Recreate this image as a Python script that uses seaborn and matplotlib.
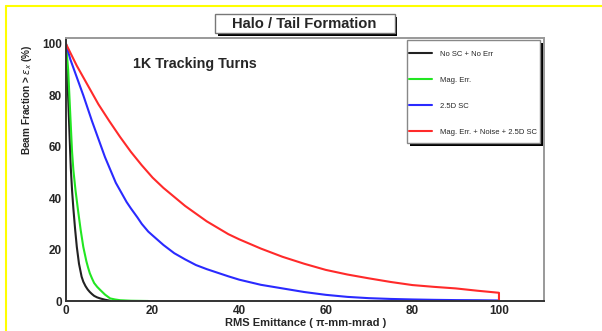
import numpy as np
import pandas as pd
import matplotlib
matplotlib.use("Agg")
import matplotlib.pyplot as plt
import seaborn as sns
from matplotlib.patches import Rectangle
from matplotlib.lines import Line2D
from matplotlib.ticker import MultipleLocator

# ---- data ----
series_labels = ["No SC + No Err", "Mag. Err.", "2.5D SC", "Mag. Err. + Noise + 2.5D SC"]
series_colors = ["#222222", "#22e622", "#2a2aff", "#ff2a2a"]

emit_nosc = [0, 0.3, 0.7, 1.1, 1.4, 1.7, 2.1, 2.5, 3.0, 3.6, 4.0, 4.5, 5.0, 5.5, 6.0, 6.5, 7.2,
             7.9, 9.0, 10.2]
frac_nosc = [100, 88, 70, 52, 43, 36, 28, 21, 14.5, 9.5, 7.5, 5.8, 4.5, 3.5, 2.7, 2.0, 1.4,
             1.0, 0.5, 0.1]

emit_mag = [0, 0.5, 1.0, 1.4, 1.7, 2.2, 2.8, 3.4, 4.0, 4.7, 5.1, 5.5, 6.0, 6.5, 7.2, 7.9, 9.0,
            10.2, 11.3, 12.5, 15, 19]
frac_mag = [100, 90, 72, 58, 51, 43, 35, 27.5, 21, 15.5, 13, 10.8, 8.8, 7.0, 5.5, 4.3, 2.5,
            1.0, 0.6, 0.3, 0.1, 0.0]

emit_sc = [0, 1, 2.5, 4, 5, 6, 7.5, 9, 10, 11.5, 12.5, 14, 15, 16.5, 17.5, 19, 20, 22.5, 25,
           27.5, 30, 32.5, 35, 37.5, 40, 45, 50, 55, 60, 65, 70, 75, 80, 85, 90, 95, 100]
frac_sc = [100, 94, 87, 80, 75, 70, 63, 56, 52, 46, 43, 38.5, 36, 32.5, 30, 27, 25.5, 21.8,
           18.6, 16.2, 14, 12.4, 11, 9.6, 8.3, 6.3, 4.9, 3.5, 2.4, 1.6, 1.1, 0.8, 0.6, 0.45,
           0.35, 0.3, 0.2]

emit_all = [0, 2.5, 5, 7.5, 10, 12.5, 15, 17.5, 20, 22.5, 25, 27.5, 30, 32.5, 35, 37.5, 40,
            45, 50, 55, 60, 65, 70, 75, 80, 85, 90, 95, 100, 100]
frac_all = [100, 91.5, 84, 76.5, 70, 63.8, 58, 52.8, 48, 44, 40.5, 37, 34, 31, 28.5, 26, 24,
            20.4, 17.2, 14.5, 12.1, 10.3, 8.8, 7.4, 6.2, 5.5, 4.9, 4.0, 3.2, 0.0]

x_ticks = [0, 20, 40, 60, 80, 100]
y_ticks = [0, 20, 40, 60, 80, 100]

title_text = "Halo / Tail Formation"
subtitle_text = "1K Tracking Turns"
xlabel_text = "RMS Emittance ( \u03c0-mm-mrad )"
ylabel_text = r"Beam Fraction > $\epsilon_x$ (%)"

# ---- build table ----
frames = []
for lab, ex, fr in zip(series_labels,
                       [emit_nosc, emit_mag, emit_sc, emit_all],
                       [frac_nosc, frac_mag, frac_sc, frac_all]):
    frames.append(pd.DataFrame({"emit": ex, "frac": fr, "series": lab}))
df = pd.concat(frames, ignore_index=True)
palette = dict(zip(series_labels, series_colors))

sns.set_style("white")
plt.rcParams["font.family"] = ["Liberation Sans", "DejaVu Sans"]

W, H = 602, 331
fig = plt.figure(figsize=(W / 100, H / 100), dpi=100)
fig.patch.set_facecolor("white")


def fx(px):
    return px / W


def fy(py):
    return 1 - py / H


ax = fig.add_axes([fx(66), fy(301), (544 - 66) / W, (301 - 38.3) / H])

sns.lineplot(data=df, x="emit", y="frac", hue="series", palette=palette,
             estimator=None, sort=False, linewidth=1.5, ax=ax, legend=False)

ax.set_xlim(0, 110.4)
ax.set_ylim(0, 102.2)
ax.set_xticks(x_ticks)
ax.set_yticks(y_ticks)
ax.set_xticklabels([str(v) for v in x_ticks])
ax.set_yticklabels([str(v) for v in y_ticks])
ax.xaxis.set_minor_locator(MultipleLocator(5))
ax.yaxis.set_minor_locator(MultipleLocator(5))
ax.tick_params(axis="y", which="major", direction="in", length=10, width=1, color="#444444",
               pad=3, labelsize=8.5)
ax.tick_params(axis="y", which="minor", direction="in", length=5, width=1, color="#444444")
ax.tick_params(axis="x", which="major", direction="in", length=6, width=1, color="#444444",
               pad=3, labelsize=8.5)
ax.tick_params(axis="x", which="minor", direction="in", length=4, width=1, color="#444444")
for lab in ax.get_xticklabels() + ax.get_yticklabels():
    lab.set_fontweight("bold")
ax.set_xlabel("")
ax.set_ylabel("")
for side in ["left", "bottom"]:
    ax.spines[side].set_color("#333333")
    ax.spines[side].set_linewidth(1.4)
for side in ["top", "right"]:
    ax.spines[side].set_color("#999999")
    ax.spines[side].set_linewidth(1.4)

# axis labels
fig.text(fx(306), fy(323), xlabel_text, ha="center", va="center", fontsize=8, fontweight="bold")
fig.text(fx(27), fy(100), ylabel_text, ha="center", va="center", rotation=90,
         fontsize=7.2, fontweight="bold")

# subtitle in plot
fig.text(fx(195), fy(64), subtitle_text, ha="center", va="center", fontsize=10.3,
         fontweight="bold")


def add_rect(x0, y0, x1, y1, fc, ec="none", lw=0, z=2):
    r = Rectangle((fx(x0), fy(y1)), (x1 - x0) / W, (y1 - y0) / H, transform=fig.transFigure,
                  facecolor=fc, edgecolor=ec, linewidth=lw, zorder=z)
    fig.patches.append(r)


# title box with shadow
add_rect(218, 17, 397, 35.5, "black", z=2)
add_rect(215, 14, 394.5, 33, "white", ec="#777777", lw=1, z=3)
fig.text(fx(304), fy(23.5), title_text, ha="center", va="center", fontsize=10.6,
         fontweight="bold", zorder=4)

# legend box with shadow
add_rect(409.5, 43, 542.5, 145.5, "black", z=2)
add_rect(406.7, 40, 539.5, 142.7, "white", ec="#888888", lw=1, z=3)
handles = [Line2D([0], [0], color=c, lw=1.5) for c in series_colors]
leg = fig.legend(handles, series_labels, loc="upper left",
                 bbox_to_anchor=(fx(409), fy(50.5)), frameon=False, fontsize=5.5,
                 handlelength=3.0, handletextpad=1.0, labelspacing=2.45, borderpad=0,
                 borderaxespad=0)
leg.set_zorder(5)

# yellow page border (left and top)
fig.add_artist(Line2D([fx(6), fx(6)], [0, fy(6)], color="#ffff00", lw=1.5,
                      transform=fig.transFigure))
fig.add_artist(Line2D([fx(6), 1], [fy(6), fy(6)], color="#ffff00", lw=1.5,
                      transform=fig.transFigure))

fig.savefig("out.png", dpi=100, facecolor="white")
